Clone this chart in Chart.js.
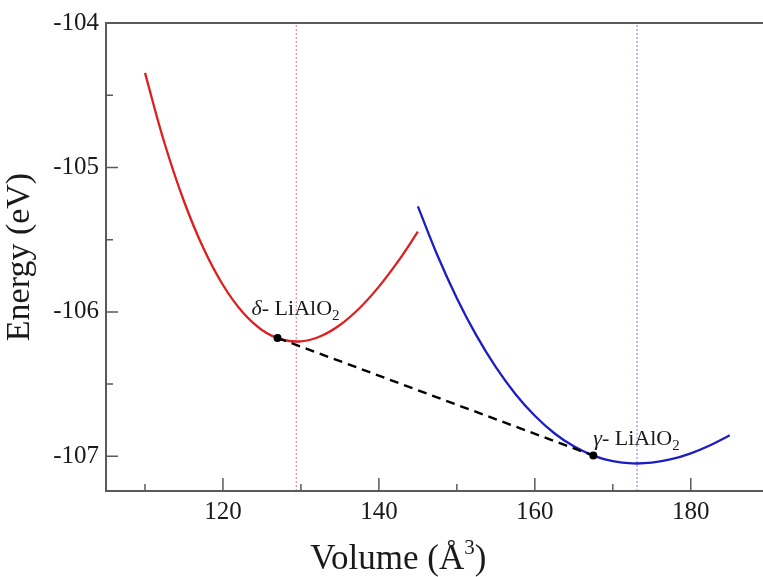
<!DOCTYPE html>
<html lang="en">
<head>
<meta charset="UTF-8">
<title>LiAlO2 energy vs volume</title>
<script src="https://cdn.jsdelivr.net/npm/chart.js"></script>
<style>
  html, body { margin: 0; padding: 0; background: #ffffff; }
  #ev-chart { display: block; }
</style>
</head>
<body>
<canvas id="ev-chart" width="763" height="577"></canvas>
<script>
// delta phase E(V) curve
const deltaVolume = [110, 112.5, 115, 117.5, 120, 122.5, 125, 127.5, 130, 132.5, 135, 137.5, 140, 142.5, 145];
const deltaEnergy = [-104.345, -104.831, -105.234, -105.560, -105.814, -106.001, -106.125, -106.190, -106.204, -106.169, -106.091, -105.975, -105.825, -105.647, -105.445];

// gamma phase E(V) curve
const gammaVolume = [145, 147.5, 150, 152.5, 155, 157.5, 160, 162.5, 165, 167.5, 170, 172.5, 175, 177.5, 180, 182.5, 185];
const gammaEnergy = [-105.270, -105.608, -105.905, -106.163, -106.383, -106.568, -106.719, -106.840, -106.931, -106.995, -107.034, -107.049, -107.044, -107.020, -106.979, -106.923, -106.854];

// common tangent between the two phases
const tangentVolume = [127, 167.5];
const tangentEnergy = [-106.18, -106.995];
const tangentLabels = ['δ', 'γ'];

// equilibrium volumes
const deltaMinVolume = 129.4;
const gammaMinVolume = 173.1;

const xMajorTicks = [120, 140, 160, 180];
const xMinorTicks = [110, 130, 150, 170];
const yMajorTicks = [-107, -106, -105, -104];
const yMinorTicks = [-106.5, -105.5, -104.5];

const X_MIN = 105, X_MAX = 188.75;
const Y_MIN = -107.24, Y_MAX = -104;

const SERIF = '"Liberation Serif", "DejaVu Serif", serif';
const INK = '#1a1a1a';

const toPoints = (xs, ys) => xs.map((x, i) => ({ x: x, y: ys[i] }));
const vline = (x) => [{ x: x, y: Y_MIN }, { x: x, y: Y_MAX }];

// frame (left, top, bottom) with inward ticks, like xmgrace output
const framePlugin = {
    id: 'frame',
    afterDraw(chart) {
        const { ctx, chartArea: a, scales: { x, y } } = chart;
        ctx.save();
        ctx.strokeStyle = '#5a5a5a';
        ctx.lineWidth = 2;
        ctx.beginPath();
        ctx.moveTo(chart.width, a.top);
        ctx.lineTo(a.left, a.top);
        ctx.lineTo(a.left, a.bottom);
        ctx.lineTo(chart.width, a.bottom);
        ctx.stroke();

        ctx.lineWidth = 1.5;
        ctx.beginPath();
        xMajorTicks.forEach(v => { const p = x.getPixelForValue(v); ctx.moveTo(p, a.bottom); ctx.lineTo(p, a.bottom - 13); });
        xMinorTicks.forEach(v => { const p = x.getPixelForValue(v); ctx.moveTo(p, a.bottom); ctx.lineTo(p, a.bottom - 7); });
        yMajorTicks.forEach(v => { const p = y.getPixelForValue(v); ctx.moveTo(a.left, p); ctx.lineTo(a.left + 12, p); });
        yMinorTicks.forEach(v => { const p = y.getPixelForValue(v); ctx.moveTo(a.left, p); ctx.lineTo(a.left + 7, p); });
        ctx.stroke();
        ctx.restore();
    }
};

// phase labels next to the tangent points, plus the x axis title
const labelPlugin = {
    id: 'phaseLabels',
    afterDraw(chart) {
        const { ctx, scales: { x, y } } = chart;
        ctx.save();
        ctx.fillStyle = INK;
        ctx.textBaseline = 'alphabetic';
        ctx.textAlign = 'left';

        const offsets = [[-26, -23], [0, -11]];
        tangentVolume.forEach((v, i) => {
            let px = x.getPixelForValue(v) + offsets[i][0];
            const py = y.getPixelForValue(tangentEnergy[i]) + offsets[i][1];
            ctx.font = 'italic 22px ' + SERIF;
            ctx.fillText(tangentLabels[i], px, py);
            px += ctx.measureText(tangentLabels[i]).width;
            ctx.font = '22px ' + SERIF;
            ctx.fillText('- LiAlO', px, py);
            px += ctx.measureText('- LiAlO').width;
            ctx.font = '15px ' + SERIF;
            ctx.fillText('2', px, py + 5);
        });

        // x axis title with superscript
        const cx = x.getPixelForValue(142.5);
        const cy = 569;
        ctx.font = '35px ' + SERIF;
        const main = 'Volume (Å';
        const wMain = ctx.measureText(main).width;
        const wParen = ctx.measureText(')').width;
        ctx.font = '21px ' + SERIF;
        const wSup = ctx.measureText('3').width;
        let px = cx - (wMain + wSup + wParen) / 2;
        ctx.font = '35px ' + SERIF;
        ctx.fillText(main, px, cy);
        px += wMain;
        ctx.font = '21px ' + SERIF;
        ctx.fillText('3', px, cy - 15);
        px += wSup;
        ctx.font = '35px ' + SERIF;
        ctx.fillText(')', px, cy);
        ctx.restore();
    }
};

const ctx = document.getElementById('ev-chart').getContext('2d');
const evChart = new Chart(ctx, {
    type: 'line',
    data: {
        datasets: [
            {
                label: 'tangent',
                data: toPoints(tangentVolume, tangentEnergy),
                borderColor: '#000000',
                borderWidth: 2.4,
                borderDash: [9, 6],
                pointRadius: 4,
                pointBackgroundColor: '#000000',
                pointBorderWidth: 0
            },
            {
                label: 'δ-LiAlO2',
                data: toPoints(deltaVolume, deltaEnergy),
                borderColor: '#dd1f1f',
                borderWidth: 2.3,
                pointRadius: 0,
                tension: 0.4
            },
            {
                label: 'γ-LiAlO2',
                data: toPoints(gammaVolume, gammaEnergy),
                borderColor: '#1d1dc4',
                borderWidth: 2.3,
                pointRadius: 0,
                tension: 0.4
            },
            {
                label: 'V0 delta',
                data: vline(deltaMinVolume),
                borderColor: '#e57a86',
                borderWidth: 1,
                borderDash: [2, 2],
                pointRadius: 0
            },
            {
                label: 'V0 gamma',
                data: vline(gammaMinVolume),
                borderColor: '#7c7ce0',
                borderWidth: 1,
                borderDash: [2, 2],
                pointRadius: 0
            }
        ]
    },
    options: {
        responsive: false,
        animation: false,
        layout: { padding: { top: 23, right: 0, left: 0, bottom: 0 } },
        plugins: {
            legend: { display: false },
            tooltip: { enabled: false }
        },
        scales: {
            x: {
                type: 'linear',
                min: X_MIN,
                max: X_MAX,
                grid: { display: false, drawTicks: false },
                border: { display: false },
                afterBuildTicks: (scale) => { scale.ticks = xMajorTicks.map(v => ({ value: v })); },
                afterFit: (scale) => { scale.height = 86; },
                ticks: {
                    color: INK,
                    padding: 6,
                    maxRotation: 0,
                    font: { family: SERIF, size: 25 }
                }
            },
            y: {
                type: 'linear',
                min: Y_MIN,
                max: Y_MAX,
                grid: { display: false, drawTicks: false },
                border: { display: false },
                afterBuildTicks: (scale) => { scale.ticks = yMajorTicks.map(v => ({ value: v })); },
                afterFit: (scale) => { scale.width = 106; },
                ticks: {
                    color: INK,
                    padding: 7,
                    font: { family: SERIF, size: 25 }
                },
                title: {
                    display: true,
                    text: 'Energy (eV)',
                    color: INK,
                    padding: { top: 0, bottom: 0 },
                    font: { family: SERIF, size: 34 }
                }
            }
        }
    },
    plugins: [framePlugin, labelPlugin]
});
</script>
</body>
</html>
